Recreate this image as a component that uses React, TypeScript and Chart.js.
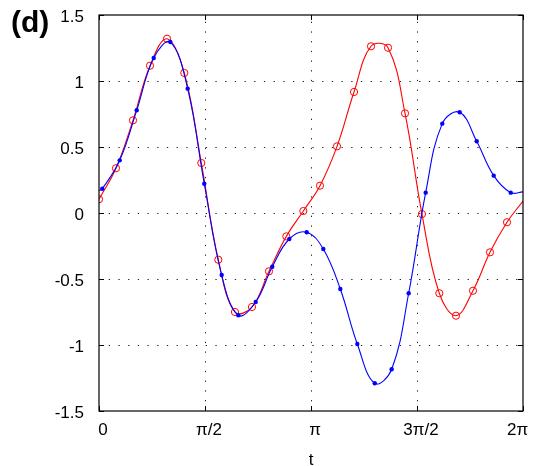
import React, { useEffect, useRef } from "react";
import { Chart, registerables } from "chart.js";

Chart.register(...registerables);

const PI = Math.PI;

// x tick positions and labels
const xTickValues = [0, PI / 2, PI, (3 * PI) / 2, 2 * PI];
const xTickLabels = ["0", "π/2", "π", "3π/2", "2π    "];
const yTickValues = [-1.5, -1, -0.5, 0, 0.5, 1, 1.5];
const yTickLabels = ["-1.5", "-1", "-0.5", "0", "0.5", "1", "1.5"];

// blue series (dot markers); first and last entries are the curve ends at the plot edges (no marker)
const blueT = [0, 0.049, 0.307, 0.559, 0.811, 1.057, 1.314, 1.56, 1.818, 2.064, 2.322, 2.568, 2.82, 3.078, 3.324, 3.576, 3.828, 4.086, 4.337, 4.589, 4.841, 5.087, 5.345, 5.597, 5.849, 6.101, 2 * PI];
const blueY = [0.17, 0.184, 0.399, 0.778, 1.174, 1.295, 0.942, 0.222, -0.47, -0.775, -0.674, -0.407, -0.197, -0.146, -0.273, -0.576, -0.992, -1.29, -1.184, -0.608, 0.154, 0.677, 0.763, 0.543, 0.283, 0.154, 0.16];

// red series (circle markers); last entry is the curve end at the right edge (no marker)
const redT = [0, 0.252, 0.504, 0.756, 1.008, 1.264, 1.516, 1.768, 2.015, 2.267, 2.519, 2.776, 3.028, 3.275, 3.527, 3.779, 4.031, 4.283, 4.535, 4.786, 5.043, 5.29, 5.542, 5.794, 6.046, 2 * PI];
const redY = [0.104, 0.339, 0.702, 1.116, 1.32, 1.061, 0.379, -0.354, -0.75, -0.712, -0.442, -0.177, 0.015, 0.207, 0.505, 0.917, 1.263, 1.252, 0.755, -0.008, -0.608, -0.778, -0.589, -0.298, -0.07, 0.09];

const FONT = "'Liberation Sans', Arial, Helvetica, sans-serif";

const framePlugin = {
  id: "frame",
  beforeDatasetsDraw(chart: any) {
    const { ctx, chartArea } = chart;
    const xs = chart.scales.x;
    const ys = chart.scales.y;
    ctx.save();
    ctx.strokeStyle = "#222";
    ctx.lineWidth = 1;
    ctx.setLineDash([1.3, 8.4]);
    xTickValues.slice(1, -1).forEach((v) => {
      const px = Math.round(xs.getPixelForValue(v)) + 0.5;
      ctx.beginPath();
      ctx.moveTo(px, chartArea.bottom);
      ctx.lineTo(px, chartArea.top);
      ctx.stroke();
    });
    yTickValues.slice(1, -1).forEach((v) => {
      const py = Math.round(ys.getPixelForValue(v)) + 0.5;
      ctx.beginPath();
      ctx.moveTo(chartArea.left, py);
      ctx.lineTo(chartArea.right, py);
      ctx.stroke();
    });
    ctx.restore();
  },
  afterDatasetsDraw(chart: any) {
    const { ctx, chartArea } = chart;
    const xs = chart.scales.x;
    const ys = chart.scales.y;
    const { left, right, top, bottom } = chartArea;
    ctx.save();
    ctx.strokeStyle = "#000";
    ctx.lineWidth = 1.2;
    ctx.setLineDash([]);
    ctx.strokeRect(left, top, right - left, bottom - top);
    const tl = 5;
    ctx.lineWidth = 1;
    ctx.beginPath();
    xTickValues.forEach((v) => {
      const px = Math.round(xs.getPixelForValue(v)) + 0.5;
      ctx.moveTo(px, bottom);
      ctx.lineTo(px, bottom - tl);
      ctx.moveTo(px, top);
      ctx.lineTo(px, top + tl);
    });
    yTickValues.forEach((v) => {
      const py = Math.round(ys.getPixelForValue(v)) + 0.5;
      ctx.moveTo(left, py);
      ctx.lineTo(left + tl, py);
      ctx.moveTo(right, py);
      ctx.lineTo(right - tl, py);
    });
    ctx.stroke();
    ctx.restore();
  },
  afterDraw(chart: any) {
    const { ctx } = chart;
    ctx.save();
    ctx.fillStyle = "#000";
    ctx.font = `bold 30px ${FONT}`;
    ctx.textBaseline = "alphabetic";
    ctx.textAlign = "left";
    ctx.fillText("(d)", 11, 32);
    ctx.restore();
  },
};

export default function App() {
  const ref = useRef<HTMLCanvasElement | null>(null);

  useEffect(() => {
    if (!ref.current) return;
    const blueData = blueT.map((t, i) => ({ x: t, y: blueY[i] }));
    const redData = redT.map((t, i) => ({ x: t, y: redY[i] }));
    const chart = new Chart(ref.current, {
      type: "line",
      data: {
        datasets: [
          {
            label: "blue",
            data: blueData,
            borderColor: "#0000ff",
            borderWidth: 1.1,
            tension: 0.4,
            backgroundColor: "#0000ff",
            pointBackgroundColor: "#0000ff",
            pointBorderColor: "#0000ff",
            pointBorderWidth: 0,
            pointRadius: (c: any) => (c.dataIndex === 0 || c.dataIndex === blueData.length - 1 ? 0 : 2.2),
            fill: false,
          },
          {
            label: "red",
            data: redData,
            borderColor: "#ff0000",
            borderWidth: 1.1,
            tension: 0.4,
            backgroundColor: "rgba(0,0,0,0)",
            pointBackgroundColor: "rgba(0,0,0,0)",
            pointBorderColor: "#ff0000",
            pointBorderWidth: 1,
            pointRadius: (c: any) => (c.dataIndex === redData.length - 1 ? 0 : 3.6),
            fill: false,
          },
        ],
      },
      options: {
        responsive: false,
        maintainAspectRatio: false,
        animation: false,
        events: [],
        layout: { padding: { left: 0, right: 12, top: 15, bottom: -5 } },
        plugins: {
          legend: { display: false },
          tooltip: { enabled: false },
          title: { display: false },
        },
        scales: {
          x: {
            type: "linear",
            min: 0,
            max: 2 * PI,
            grid: { display: false, drawTicks: false },
            border: { display: false },
            afterBuildTicks: (scale: any) => {
              scale.ticks = xTickValues.map((v) => ({ value: v }));
            },
            afterFit: (scale: any) => {
              scale.height = 60;
              scale.paddingLeft = 0;
              scale.paddingRight = 0;
              scale.paddingTop = 0;
              scale.paddingBottom = 0;
            },
            ticks: {
              autoSkip: false,
              maxRotation: 0,
              padding: 9,
              labelOffset: 4,
              color: "#000",
              font: { family: FONT, size: 17 },
              callback: (_v: any, i: number) => xTickLabels[i],
            },
            title: {
              display: true,
              text: "t",
              color: "#000",
              font: { family: FONT, size: 17, lineHeight: 1 },
              padding: { top: 0, bottom: 2 },
            },
          },
          y: {
            type: "linear",
            min: -1.5,
            max: 1.5,
            grid: { display: false, drawTicks: false },
            border: { display: false },
            afterBuildTicks: (scale: any) => {
              scale.ticks = yTickValues.map((v) => ({ value: v }));
            },
            afterFit: (scale: any) => {
              scale.width = 99;
              scale.paddingLeft = 0;
              scale.paddingRight = 0;
              scale.paddingTop = 0;
              scale.paddingBottom = 0;
            },
            ticks: {
              autoSkip: false,
              padding: 15,
              labelOffset: 2.5,
              color: "#000",
              font: { family: FONT, size: 17 },
              callback: (_v: any, i: number) => yTickLabels[i],
            },
          },
        },
      },
      plugins: [framePlugin],
    });
    return () => chart.destroy();
  }, []);

  return (
    <div style={{ position: "absolute", left: 0, top: 0, width: 535, height: 466, background: "#fff" }}>
      <canvas ref={ref} width={535} height={466} style={{ width: 535, height: 466 }} />
    </div>
  );
}
